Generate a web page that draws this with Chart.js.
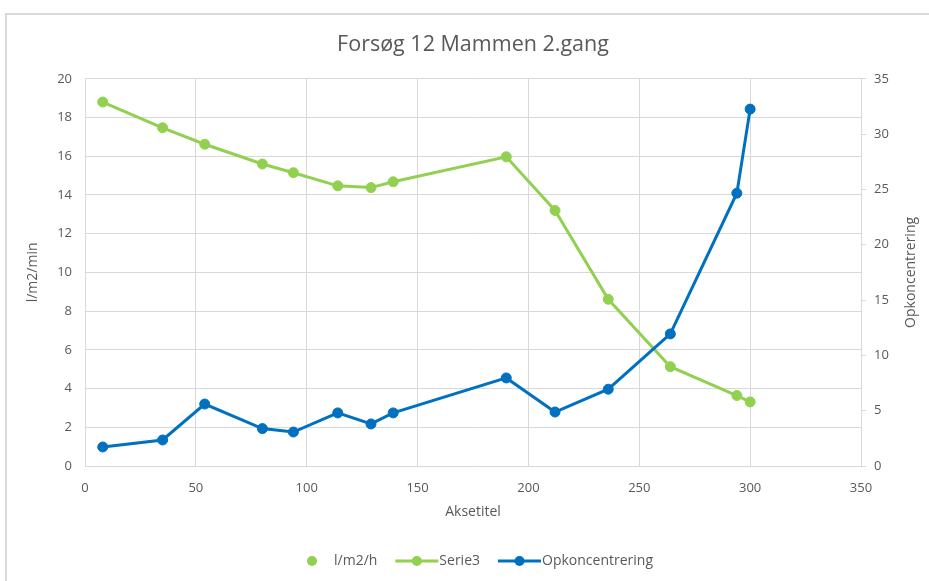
<!DOCTYPE html>
<html>
<head>
<meta charset="utf-8">
<script src="https://cdn.jsdelivr.net/npm/chart.js@4.4.1/dist/chart.umd.min.js"></script>
<style>
  html, body { margin: 0; padding: 0; background: #ffffff; overflow: hidden; }
  #frame { position: absolute; left: 5px; top: 13px; width: 960px; height: 600px;
           border-left: 2px solid #d9d9d9; border-top: 2px solid #d9d9d9; }
  #wrap { position: absolute; left: 0; top: 0; width: 929px; height: 581px; }
</style>
</head>
<body>
<div id="frame"></div>
<div id="wrap"><canvas id="chart" width="929" height="581"></canvas></div>
<script>
// Sample times on the x axis (shared by both series)
const xValues = [8, 35, 54, 80, 94, 114, 129, 139, 190, 212, 236, 264, 294, 300];
// Flux, left axis (l/m2/min)
const fluxValues = [18.8, 17.47, 16.62, 15.6, 15.15, 14.47, 14.38, 14.68, 15.97, 13.2, 8.61, 5.13, 3.64, 3.31];
// Concentration factor, right axis
const concValues = [1.72, 2.35, 5.6, 3.38, 3.07, 4.8, 3.8, 4.8, 7.96, 4.88, 6.94, 11.94, 24.66, 32.26];

const seriesNames = ['l/m2/h', 'Serie3', 'Opkoncentrering'];
const chartTitle = 'Forsøg 12 Mammen 2.gang';
const xTitle = 'Aksetitel';
const yLeftTitle = 'l/m2/min';
const yRightTitle = 'Opkoncentrering';

const GREEN = '#92d050';
const BLUE = '#0070c0';
const GRID = '#d9d9d9';
const TEXT = '#595959';
const FONT = "'Open Sans', sans-serif";

const toPoints = (xs, ys) => xs.map((x, i) => ({ x: x, y: ys[i] }));

// Legend row under the x axis title: marker-only entry, then line+marker entries
const seriesLegend = {
  id: 'seriesLegend',
  afterDraw(chart) {
    const ctx = chart.ctx;
    const y = 561, centre = 480, gap = 18, lineLen = 43;
    ctx.save();
    ctx.font = '14px ' + FONT;
    ctx.textBaseline = 'middle';
    const items = chart.data.datasets.map(ds => ({
      text: ds.label, color: ds.borderColor, line: ds.showLine,
      textW: ctx.measureText(ds.label).width
    }));
    items.forEach(it => { it.sw = it.line ? lineLen + 1 : 27; });
    const total = items.reduce((s, it) => s + it.sw + it.textW, 0) + gap * (items.length - 1);
    let x = centre - total / 2;
    items.forEach(it => {
      ctx.fillStyle = it.color;
      ctx.strokeStyle = it.color;
      let dotX;
      if (it.line) {
        ctx.lineWidth = 3;
        ctx.beginPath(); ctx.moveTo(x, y); ctx.lineTo(x + lineLen, y); ctx.stroke();
        dotX = x + lineLen / 2;
      } else {
        dotX = x + 5;
      }
      ctx.beginPath(); ctx.arc(dotX, y, 5, 0, Math.PI * 2); ctx.fill();
      x += it.sw;
      ctx.fillStyle = TEXT;
      ctx.textAlign = 'left';
      ctx.fillText(it.text, x, y);
      x += it.textW + gap;
    });
    ctx.restore();
  }
};

// Right axis title, reading bottom-to-top like the left one
const rightAxisTitle = {
  id: 'rightAxisTitle',
  afterDraw(chart) {
    const ctx = chart.ctx;
    const area = chart.chartArea;
    ctx.save();
    ctx.translate(911, (area.top + area.bottom) / 2);
    ctx.rotate(-Math.PI / 2);
    ctx.font = '14px ' + FONT;
    ctx.fillStyle = TEXT;
    ctx.textAlign = 'center';
    ctx.textBaseline = 'middle';
    ctx.fillText(yRightTitle, 0, 0);
    ctx.restore();
  }
};

new Chart(document.getElementById('chart'), {
  type: 'scatter',
  data: {
    datasets: [
      {
        label: seriesNames[0], data: [], yAxisID: 'y', order: 2,
        showLine: false, backgroundColor: GREEN, borderColor: GREEN, pointRadius: 5
      },
      {
        label: seriesNames[1], data: toPoints(xValues, fluxValues), yAxisID: 'y', order: 1,
        showLine: true, borderColor: GREEN, backgroundColor: GREEN, borderWidth: 3,
        pointRadius: 5, pointHoverRadius: 5, pointBorderWidth: 1
      },
      {
        label: seriesNames[2], data: toPoints(xValues, concValues), yAxisID: 'y1', order: 0,
        showLine: true, borderColor: BLUE, backgroundColor: BLUE, borderWidth: 3,
        pointRadius: 5, pointHoverRadius: 5, pointBorderWidth: 1
      }
    ]
  },
  plugins: [seriesLegend, rightAxisTitle],
  options: {
    responsive: false,
    animation: false,
    layout: { padding: { left: 0, right: 0, top: 0, bottom: 45 } },
    plugins: {
      tooltip: { enabled: false },
      legend: { display: false },
      title: {
        display: true, text: chartTitle, fullSize: false, color: TEXT,
        font: { family: FONT, size: 21.5, weight: 'normal' },
        padding: { top: 32, bottom: 21 }
      }
    },
    scales: {
      x: {
        type: 'linear', min: 0, max: 350,
        ticks: { stepSize: 50, color: TEXT, font: { family: FONT, size: 13 }, padding: 14 },
        grid: { color: GRID, drawTicks: false },
        border: { color: GRID },
        title: { display: true, text: xTitle, color: TEXT, font: { family: FONT, size: 14 },
                 padding: { top: 0, bottom: 16 } },
        afterFit: (s) => { s.height = 70; }
      },
      y: {
        position: 'left', min: 0, max: 20,
        ticks: { stepSize: 2, color: TEXT, font: { family: FONT, size: 13 }, padding: 13 },
        grid: { color: GRID, drawTicks: false },
        border: { color: GRID },
        title: { display: true, text: yLeftTitle, color: TEXT, font: { family: FONT, size: 14 },
                 padding: { top: 25, bottom: 0 } },
        afterFit: (s) => { s.width = 85; }
      },
      y1: {
        position: 'right', min: 0, max: 35,
        ticks: { stepSize: 5, color: TEXT, font: { family: FONT, size: 13 }, padding: 8 },
        grid: { drawOnChartArea: false, color: GRID, tickLength: 5 },
        border: { color: GRID },
        title: { display: false },
        afterFit: (s) => { s.width = 68; }
      }
    }
  }
});
</script>
</body>
</html>
